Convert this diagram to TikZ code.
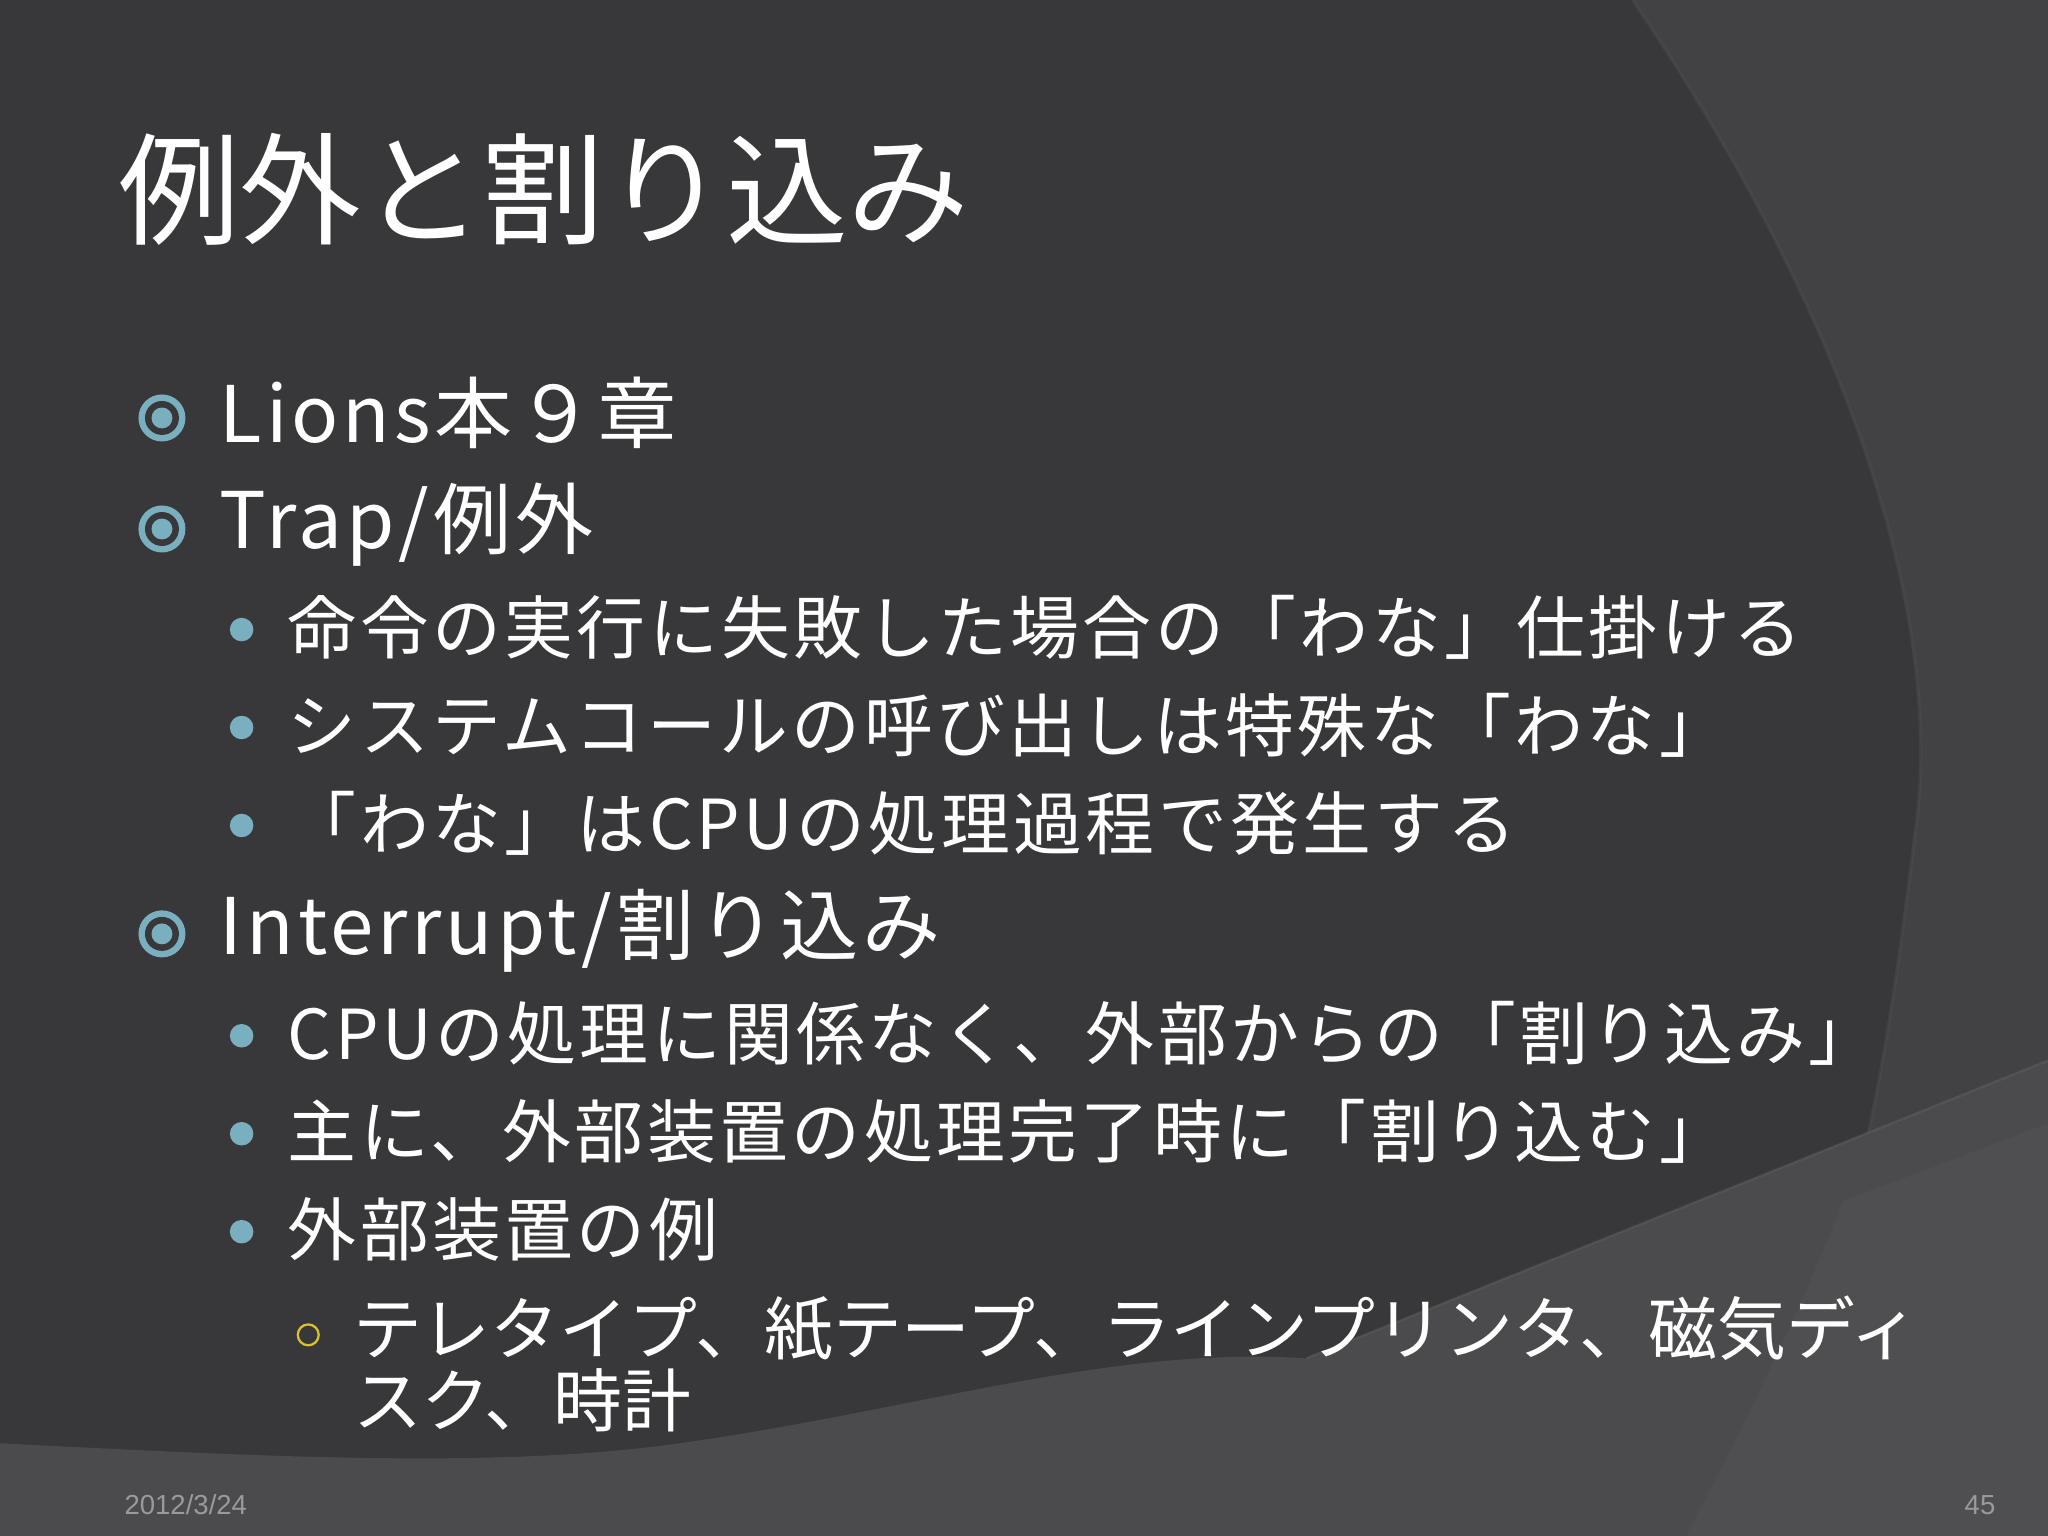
\documentclass[tikz,border=0pt]{standalone}
\usepackage{fontspec}
\setmainfont{Noto Sans CJK JP}
\newfontfamily\widefont[LetterSpace=5]{Noto Sans CJK JP}
\newfontfamily\footfont{Liberation Sans}
\definecolor{bgdark}{HTML}{38383A}
\definecolor{bgmid}{HTML}{424244}
\definecolor{bgband}{HTML}{4B4B4D}
\definecolor{bgband2}{HTML}{4F4F51}
\definecolor{teal}{HTML}{7AAFC0}
\definecolor{yel}{HTML}{D8C030}
\definecolor{foot}{HTML}{9A9A9A}
\tikzset{
 lone/.style={anchor=west,text=white,font=\widefont\fontsize{34}{40}\selectfont,inner sep=0},
 ltwo/.style={anchor=west,text=white,font=\widefont\fontsize{30}{36}\selectfont,inner sep=0},
 lthree/.style={anchor=west,text=white,font=\fontsize{30}{36}\selectfont,inner sep=0},
 footer/.style={text=foot,font=\footfont\fontsize{12}{14}\selectfont,inner sep=0},
 arcline/.style={black!70,line width=1.5pt,opacity=0.5},
}
\begin{document}
\begin{tikzpicture}[x=0.02cm,y=-0.02cm]
\useasboundingbox (0,0) rectangle (1568,1176);
\fill[bgdark] (0,0) rectangle (1568,1176);
% right lighter region
\fill[bgmid] (1250,0) .. controls (1420,250) and (1490,480) .. (1466,640) .. controls (1455,730) and (1445,800) .. (1430,870) -- (1568,870) -- (1568,0) -- cycle;
% bottom band
\fill[bgband] (0,1105) .. controls (200,1115) and (380,1125) .. (520,1105) .. controls (700,1080) and (850,1030) .. (1000,1040) -- (1568,812) -- (1568,1176) -- (0,1176) -- cycle;
\fill[bgband2] (1410,920) -- (1568,860) -- (1568,1176) -- (1290,1176) .. controls (1340,1080) and (1380,1000) .. (1410,920) -- cycle;
\draw[arcline] (1250,0) .. controls (1420,250) and (1490,480) .. (1466,640) .. controls (1455,730) and (1445,800) .. (1430,870) .. controls (1380,1000) and (1340,1080) .. (1290,1176);
\draw[black!60,line width=1pt,opacity=0.4] (1000,1040) -- (1568,812);
% title
\node[anchor=base west,text=white,font=\fontsize{53}{60}\selectfont,inner sep=0] (title) at (90,180) {例外と割り込み};
% level 1 bullets
\foreach \y in {320,405,715} {\fill[teal] (124,\y) circle (18); \fill[bgdark] (124,\y) circle (13); \fill[teal] (124,\y) circle (8);}
\node[lone] (l1) at (168,316) {Lions本９章};
\node[lone] (l2) at (168,402) {Trap/例外};
\node[lone] (l3) at (168,713) {Interrupt/割り込み};
% level 2
\foreach \y in {482,557,632,793,868,943} \fill[teal] (185,\y) circle (9);
\node[ltwo] (a1) at (220,480) {命令の実行に失敗した場合の「わな」仕掛ける};
\node[ltwo] (a2) at (220,555) {システムコールの呼び出しは特殊な「わな」};
\node[ltwo] (a3) at (220,630) {「わな」はCPUの処理過程で発生する};
\node[ltwo] (b1) at (220,791) {CPUの処理に関係なく、外部からの「割り込み」};
\node[ltwo] (b2) at (220,866) {主に、外部装置の処理完了時に「割り込む」};
\node[ltwo] (b3) at (220,941) {外部装置の例};
% level 3
\draw[yel,line width=1pt] (236,1022) circle (8);
\node[lthree] (c1) at (270,1017) {テレタイプ、紙テープ、ラインプリンタ、磁気ディ};
\node[lthree] (c2) at (270,1072) {スク、時計};
% footer
\node[footer,anchor=west] (date) at (95,1152) {2012/3/24};
\node[footer,anchor=east] (pg) at (1528,1152) {45};
\end{tikzpicture}
\end{document}
